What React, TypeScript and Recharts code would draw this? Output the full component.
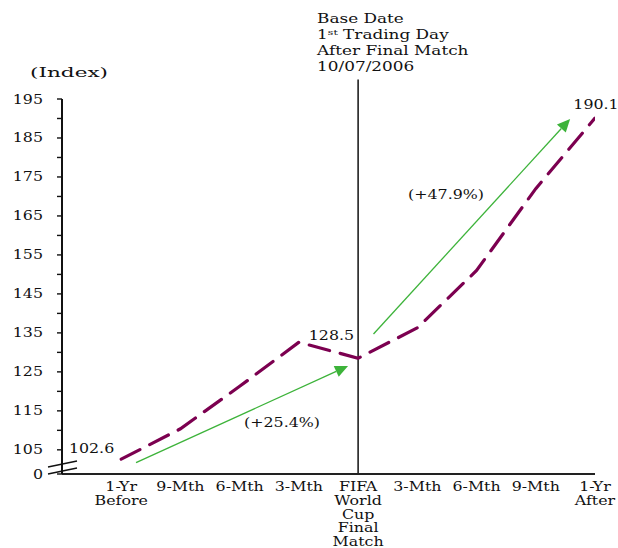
import React from "react";
import {
  LineChart,
  Line,
  XAxis,
  YAxis,
  ReferenceLine,
  ReferenceDot,
  LabelList,
} from "recharts";

// Category labels, one array of text lines per period
const categoryLines: string[][] = [
  ["1-Yr", "Before"],
  ["9-Mth"],
  ["6-Mth"],
  ["3-Mth"],
  ["FIFA", "World", "Cup", "Final", "Match"],
  ["3-Mth"],
  ["6-Mth"],
  ["9-Mth"],
  ["1-Yr", "After"],
];

// Index level at each period
const indexValues: number[] = [102.6, 110.4, 121.3, 132.6, 128.5, 136.3, 151.0, 172.0, 190.1];

// Labelled y ticks; "0" sits on the broken part of the axis
const yTickLabels: number[] = [0, 105, 115, 125, 135, 145, 155, 165, 175, 185, 195];
const yMinorTicks: number[] = [110, 120, 130, 140, 150, 160, 170, 180, 190];
const AXIS_FLOOR = 98.8; // value drawn where the axis is broken and labelled 0
const AXIS_TOP = 195;
const BASE_INDEX = 4; // the final match
const BASE_LINE_TOP = 200;

// Growth arrows: from / to in (period index, index level)
const arrowFrom: [number, number][] = [
  [0.25, 101.7],
  [4.26, 134.7],
];
const arrowTo: [number, number][] = [
  [3.83, 126.5],
  [7.58, 189.9],
];
const growthLabels: string[] = ["(+25.4%)", "(+47.9%)"];
const growthLabelAt: [number, number][] = [
  [2.715, 112.1],
  [5.484, 170.6],
];

const titleLines = ["Base Date", "1st Trading Day", "After Final Match", "10/07/2006"];
const labelledPoints = [0, 4, 8];

const data = indexValues.map((v, i) => ({ idx: i, value: v }));
const yTicks = [AXIS_FLOOR, ...yTickLabels.slice(1), ...yMinorTicks].sort((a, b) => a - b);

const FONT = "'DejaVu Serif', serif";
const TEXT = "#111";
const LINE_COLOR = "#7C0050";
const ARROW_COLOR = "#3DB33A";
const SX = 1.32;

// Serif text drawn slightly widened
const WideText = ({
  x,
  y,
  anchor = "middle",
  size = 12,
  sx = SX,
  children,
}: {
  x: number;
  y: number;
  anchor?: "start" | "middle" | "end";
  size?: number;
  sx?: number;
  children: React.ReactNode;
}) => (
  <text
    transform={`translate(${x},${y}) scale(${sx},1)`}
    textAnchor={anchor}
    fontFamily={FONT}
    fontSize={size}
    fill={TEXT}
  >
    {children}
  </text>
);

const XTick = (props: any) => {
  const { x, y, payload } = props;
  const lines = categoryLines[payload.value] || [];
  return (
    <g>
      {lines.map((l, k) => (
        <WideText key={k} x={x} y={y + 9 + k * 13.8}>
          {l}
        </WideText>
      ))}
    </g>
  );
};

const YTick = (props: any) => {
  const { x, y, payload } = props;
  const v = payload.value;
  const isFloor = Math.abs(v - AXIS_FLOOR) < 1e-6;
  const shown = isFloor ? 0 : yTickLabels.includes(v) ? v : null;
  const ax = x + 19;
  return (
    <g>
      {shown !== null && (
        <WideText x={x} y={y + 4.5} anchor="end">
          {String(shown)}
        </WideText>
      )}
      {isFloor && (
        <g stroke="#111" strokeWidth={1.4}>
          <line x1={ax - 14} y1={y - 7} x2={ax + 15} y2={y - 13} />
          <line x1={ax - 14} y1={y} x2={ax + 15} y2={y - 6} />
        </g>
      )}
    </g>
  );
};

const ArrowShape = (props: any) => {
  const { x1, y1, x2, y2 } = props;
  if ([x1, y1, x2, y2].some((n) => n === undefined || isNaN(n))) return null;
  const dx = x2 - x1;
  const dy = y2 - y1;
  const len = Math.sqrt(dx * dx + dy * dy);
  const ux = dx / len;
  const uy = dy / len;
  const head = 13;
  const half = 6;
  const bx = x2 - ux * head;
  const by = y2 - uy * head;
  const p1 = `${bx - uy * half},${by + ux * half}`;
  const p2 = `${bx + uy * half},${by - ux * half}`;
  return (
    <g>
      <line x1={x1} y1={y1} x2={bx} y2={by} stroke={ARROW_COLOR} strokeWidth={1.3} />
      <polygon points={`${x2},${y2} ${p1} ${p2}`} fill={ARROW_COLOR} />
    </g>
  );
};

const BaseLineShape = (props: any) => {
  const { x1, y1, x2, y2 } = props;
  const top = Math.min(y1, y2);
  const left = x1 - 41;
  return (
    <g>
      <line x1={x1} y1={y1} x2={x2} y2={y2} stroke="#111" strokeWidth={1.5} />
      {titleLines.map((t, k) => {
        const y = top - 57 + k * 16;
        if (t.startsWith("1st")) {
          return (
            <text
              key={k}
              transform={`translate(${left},${y}) scale(1.35,1)`}
              fontFamily={FONT}
              fontSize={12.5}
              fill={TEXT}
            >
              1<tspan fontSize={8} dy={-4}>st</tspan>
              <tspan dy={4}>{t.slice(3)}</tspan>
            </text>
          );
        }
        return (
          <WideText key={k} x={left} y={y} anchor="start" size={12.5} sx={1.35}>
            {t}
          </WideText>
        );
      })}
    </g>
  );
};

const valueLabelOffset: Record<number, [number, number, "start" | "middle" | "end"]> = {
  0: [-7, -6, "end"],
  4: [-4, -18, "end"],
  8: [1, -9, "middle"],
};

const ValueLabel = (props: any) => {
  const { x, y, value, index } = props;
  if (!labelledPoints.includes(index)) return null;
  const [ox, oy, anchor] = valueLabelOffset[index];
  return (
    <WideText x={x + ox} y={y + oy} anchor={anchor}>
      {Number(value).toFixed(1)}
    </WideText>
  );
};

const IndexLabel = (props: any) => {
  const { viewBox } = props;
  if (!viewBox) return null;
  return (
    <WideText x={viewBox.x + 69} y={viewBox.y - 22} size={13.5} sx={1.6}>
      (Index)
    </WideText>
  );
};

export default function App() {
  return (
    <div style={{ position: "absolute", left: 0, top: 0, width: 618, height: 548, background: "#fff" }}>
      <LineChart
        width={618}
        height={548}
        data={data}
        margin={{ top: 99, right: 23, bottom: 0, left: 0 }}
      >
        <XAxis
          dataKey="idx"
          type="number"
          domain={[-1, 8]}
          ticks={[0, 1, 2, 3, 4, 5, 6, 7, 8]}
          interval={0}
          height={74}
          tickLine={false}
          axisLine={{ stroke: "#222", strokeWidth: 1.8 }}
          tick={<XTick />}
          allowDataOverflow
        />
        <YAxis
          type="number"
          domain={[AXIS_FLOOR, AXIS_TOP]}
          ticks={yTicks}
          interval={0}
          width={62}
          tickSize={5}
          tickMargin={14}
          tickLine={{ stroke: "#111", strokeWidth: 1.4 }}
          axisLine={{ stroke: "#111", strokeWidth: 2 }}
          tick={<YTick />}
          allowDataOverflow
          label={<IndexLabel />}
        />
        <ReferenceLine
          segment={[
            { x: BASE_INDEX, y: AXIS_FLOOR },
            { x: BASE_INDEX, y: BASE_LINE_TOP },
          ]}
          ifOverflow="visible"
          shape={<BaseLineShape />}
        />
        {arrowFrom.map((f, i) => (
          <ReferenceLine
            key={`arrow-${i}`}
            segment={[
              { x: f[0], y: f[1] },
              { x: arrowTo[i][0], y: arrowTo[i][1] },
            ]}
            ifOverflow="visible"
            shape={<ArrowShape />}
          />
        ))}
        {growthLabels.map((t, i) => (
          <ReferenceDot
            key={`growth-${i}`}
            x={growthLabelAt[i][0]}
            y={growthLabelAt[i][1]}
            r={0}
            ifOverflow="visible"
            shape={(p: any) => (
              <WideText x={p.cx} y={p.cy + 4.5}>
                {t}
              </WideText>
            )}
          />
        ))}
        <Line
          type="linear"
          dataKey="value"
          stroke={LINE_COLOR}
          strokeWidth={3.2}
          strokeDasharray="21 11"
          strokeLinecap="round"
          dot={false}
          activeDot={false}
          isAnimationActive={false}
        >
          <LabelList dataKey="value" content={<ValueLabel />} />
        </Line>
      </LineChart>
    </div>
  );
}
